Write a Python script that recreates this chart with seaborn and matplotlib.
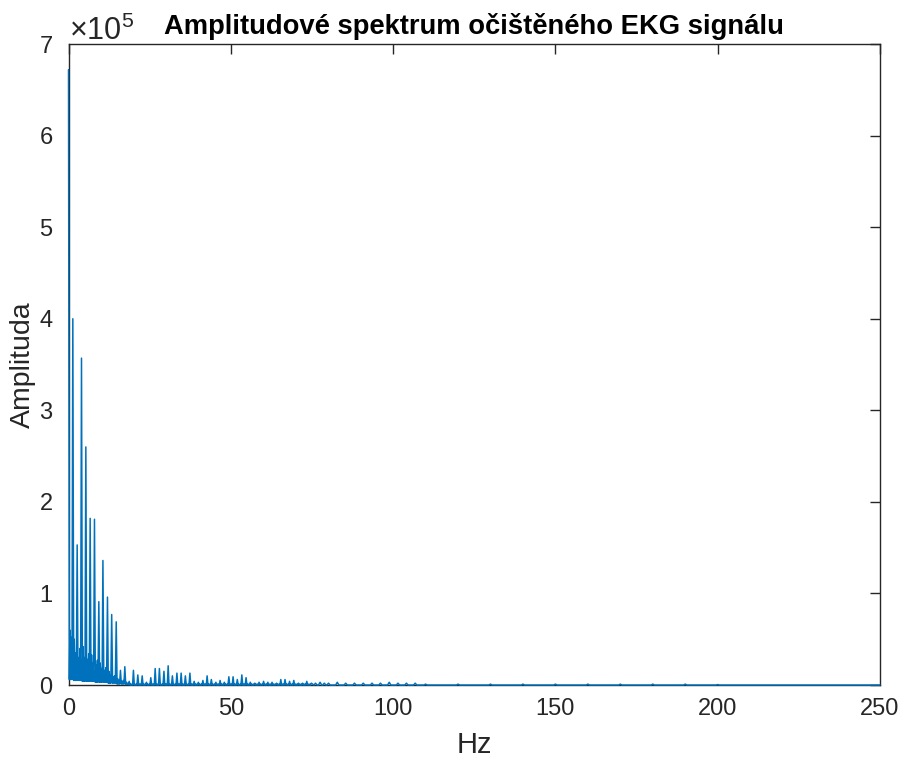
import numpy as np
import pandas as pd
import seaborn as sns
import matplotlib
matplotlib.use("Agg")
import matplotlib.pyplot as plt
from matplotlib.ticker import ScalarFormatter

# Amplitude spectrum of the cleaned ECG signal (amplitudes in units of 1e5)
dc_amp = 6.72

harmonic_hz = [1.33, 2.67, 4.0, 5.34, 6.67, 8.0, 9.34, 10.6, 12.0, 13.3,
               14.7, 16.0, 17.35, 18.7, 20.0, 21.35, 22.7, 24.0, 25.35, 26.7,
               28.0, 29.4, 30.7, 32.0, 33.4, 34.7, 36.0, 37.4, 38.7, 40.0,
               41.4, 42.7, 44.0, 45.4, 46.7, 48.0, 49.4, 50.7, 52.0, 53.4,
               54.7, 56.0, 57.4, 58.7, 60.1, 61.4, 62.7, 64.1, 65.4, 66.7,
               68.1, 69.4, 70.8, 72.1, 73.4, 74.8]
harmonic_amp = [4.00, 1.53, 3.57, 2.60, 1.82, 1.81, 0.91, 1.36, 0.96, 0.77,
                0.69, 0.16, 0.20, 0.04, 0.16, 0.11, 0.10, 0.03, 0.08, 0.18,
                0.18, 0.15, 0.21, 0.10, 0.13, 0.13, 0.10, 0.13, 0.04, 0.03,
                0.05, 0.10, 0.06, 0.03, 0.05, 0.03, 0.09, 0.09, 0.06, 0.11,
                0.08, 0.03, 0.02, 0.03, 0.04, 0.03, 0.03, 0.02, 0.06, 0.06,
                0.04, 0.05, 0.02, 0.02, 0.04, 0.02]

# broadband noise between neighbouring harmonics (low-frequency part):
# two bumps per gap and the floor between them
gap_noise_a = [0.60, 0.50, 0.30, 0.42, 0.28, 0.33, 0.22, 0.24, 0.16, 0.15,
               0.09, 0.07, 0.04, 0.03]
gap_noise_b = [0.52, 0.35, 0.40, 0.30, 0.34, 0.24, 0.27, 0.18, 0.19, 0.11,
               0.10, 0.05, 0.05, 0.02]
gap_floor = [0.06, 0.05, 0.05, 0.04, 0.04, 0.04, 0.03, 0.03, 0.03, 0.02,
             0.02, 0.01, 0.01, 0.005]

# weak high-frequency residue
tail_hz = [76.1, 77.5, 78.8, 80.1, 82.8, 85.4, 88.1, 90.8, 93.5, 96.1,
           98.8, 101.5, 104.1, 106.8, 110.0, 120.0, 130.0, 140.0, 150.0,
           160.0, 170.0, 180.0, 190.0, 200.0]
tail_amp = [0.02, 0.03, 0.02, 0.02, 0.03, 0.02, 0.02, 0.02, 0.02, 0.02,
            0.03, 0.02, 0.02, 0.02, 0.01, 0.01, 0.01, 0.01, 0.01,
            0.01, 0.01, 0.01, 0.01, 0.005]
end_hz = 250.0

# assemble the spectrum trace
hz = [0.0]
amp = [dc_amp]
left = 0.0
for k, (f, a) in enumerate(zip(harmonic_hz, harmonic_amp)):
    span = f - left
    if k < len(gap_floor):
        fl, na, nb = gap_floor[k], gap_noise_a[k], gap_noise_b[k]
    else:
        fl, na, nb = 0.0, 0.01, 0.01
    hz += [left + 0.2 * span, left + 0.33 * span, left + 0.5 * span,
           left + 0.67 * span, left + 0.8 * span, f]
    amp += [fl, na, fl, nb, fl, a]
    left = f
for f, a in zip(tail_hz, tail_amp):
    hz += [f - 0.5, f, f + 0.5]
    amp += [0.0, a, 0.0]
hz.append(end_hz)
amp.append(0.0)

df = pd.DataFrame({"Hz": hz, "Amplituda": np.array(amp) * 1e5})

sns.set_style("white")
plt.rcParams["font.family"] = ["Liberation Sans", "DejaVu Sans"]
plt.rcParams["mathtext.fontset"] = "custom"
plt.rcParams["mathtext.rm"] = "Liberation Sans"
plt.rcParams["mathtext.it"] = "Liberation Sans"

fig = plt.figure(figsize=(9.05, 7.63), dpi=100)
ax = fig.add_axes([0.0757, 0.1022, 0.8967, 0.8401])

sns.lineplot(data=df, x="Hz", y="Amplituda", ax=ax, sort=False,
             estimator=None, color="#0072BD", linewidth=1.1, zorder=3,
             clip_on=False)

ax.set_xlim(0, 250)
ax.set_ylim(0, 7e5)
ax.set_xticks([0, 50, 100, 150, 200, 250])
ax.set_yticks(np.arange(0, 8) * 1e5)

fmt = ScalarFormatter(useMathText=True)
fmt.set_powerlimits((0, 0))
ax.yaxis.set_major_formatter(fmt)

grey = "#262626"
for s in ax.spines.values():
    s.set_color(grey)
    s.set_linewidth(1.0)
ax.tick_params(direction="in", top=True, right=True, length=7, width=1.0,
               color=grey, labelcolor=grey, labelsize=17)
ax.tick_params(axis="y", pad=11)
ax.tick_params(axis="x", pad=9)
off = ax.yaxis.get_offset_text()
off.set_fontsize(22)
off.set_color(grey)

ax.set_title("Amplitudové spektrum očištěného EKG signálu", fontsize=19.7,
             fontweight="bold", color="black", pad=7)
ax.set_xlabel("Hz", fontsize=21, color=grey, labelpad=8)
ax.set_ylabel("Amplituda", fontsize=20.5, color=grey, labelpad=2)

fig.savefig("out.png", dpi=100)
